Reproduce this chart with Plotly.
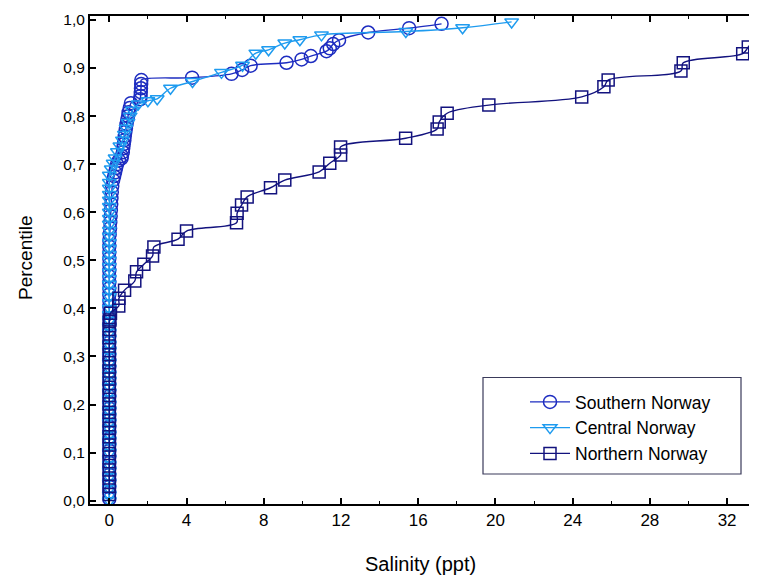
import plotly.graph_objects as go

# ---------------- data ----------------
south_x = [0, 0, 0, 0, 0, 0, 0, 0, 0, 0, 0, 0, 0, 0, 0, 0, 0, 0, 0, 0,
           0, 0, 0, 0, 0, 0, 0, 0, 0, 0, 0, 0, 0, 0, 0, 0, 0, 0, 0, 0,
           0, 0, 0, 0, 0.02, 0.04, 0.05, 0.07, 0.08, 0.1, 0.11, 0.13, 0.15,
           0.2, 0.25, 0.3, 0.35, 0.4, 0.5, 0.63, 0.65, 0.7, 0.72, 0.75, 0.78,
           0.8, 0.83, 0.86, 0.89, 0.93, 0.97, 1.0, 1.06, 1.12,
           1.6, 1.62, 1.63, 1.64, 1.65, 1.66,
           4.29, 6.33, 6.88, 7.32, 9.18, 9.96, 10.44, 11.25, 11.42, 11.6, 11.9,
           13.41, 15.53, 17.21]
south_y = [0.004, 0.017, 0.029, 0.042, 0.054, 0.067, 0.079, 0.092, 0.104, 0.117,
           0.129, 0.142, 0.154, 0.167, 0.179, 0.192, 0.204, 0.217, 0.229, 0.242,
           0.254, 0.267, 0.279, 0.292, 0.304, 0.317, 0.329, 0.342, 0.354, 0.367,
           0.379, 0.392, 0.404, 0.417, 0.429, 0.442, 0.454, 0.467, 0.479, 0.492,
           0.504, 0.517, 0.529, 0.542, 0.554, 0.567, 0.579, 0.592, 0.604, 0.617,
           0.629, 0.642, 0.654,
           0.667, 0.675, 0.683, 0.692, 0.700, 0.708, 0.712, 0.717, 0.725, 0.733,
           0.742, 0.750, 0.758, 0.767, 0.775, 0.783, 0.792, 0.800, 0.808, 0.817,
           0.827, 0.835,
           0.842, 0.850, 0.858, 0.867, 0.875, 0.880,
           0.888, 0.896, 0.905, 0.911, 0.918, 0.925, 0.935, 0.941, 0.950, 0.958,
           0.974, 0.983, 0.992, 0.999]

central_x = [0, 0, 0, 0, 0, 0, 0, 0, 0, 0, 0, 0, 0, 0, 0, 0, 0, 0, 0, 0,
             0, 0, 0, 0, 0, 0, 0, 0, 0, 0, 0, 0, 0, 0, 0, 0, 0, 0, 0, 0,
             0, 0, 0, 0, 0, 0, 0, 0, 0, 0, 0, 0, 0, 0, 0,
             0.1, 0.2, 0.3, 0.42, 0.55, 0.68, 0.78, 0.87, 0.97, 1.08, 1.2, 1.5,
             2.0, 2.48, 3.17, 4.31, 5.81, 6.9, 7.59, 8.25, 9.09, 9.87, 10.99,
             15.36, 18.3, 20.84]
central_y = [0.0, 0.012, 0.025, 0.037, 0.050, 0.062, 0.075, 0.087, 0.100, 0.112,
             0.125, 0.137, 0.150, 0.162, 0.175, 0.187, 0.200, 0.212, 0.225, 0.237,
             0.250, 0.262, 0.275, 0.287, 0.300, 0.312, 0.325, 0.337, 0.350, 0.362,
             0.375, 0.387, 0.400, 0.412, 0.425, 0.437, 0.450, 0.462, 0.475, 0.487,
             0.500, 0.512, 0.525, 0.537, 0.550, 0.562, 0.575, 0.587, 0.600, 0.612,
             0.625, 0.637, 0.650, 0.662, 0.677,
             0.690, 0.702, 0.713, 0.726, 0.738, 0.750, 0.762, 0.775, 0.787, 0.800,
             0.812, 0.825, 0.832, 0.836, 0.858, 0.872, 0.891, 0.906, 0.931, 0.938,
             0.952, 0.959, 0.969, 0.976, 0.984, 0.996]

north_x = [0, 0, 0, 0, 0, 0, 0, 0, 0, 0, 0, 0, 0, 0, 0, 0, 0, 0, 0, 0, 0, 0,
           0.03, 0.06, 0.49, 0.5, 0.79, 1.32, 1.41, 1.79, 2.24, 2.31, 3.56, 4.0,
           6.59, 6.62, 6.85, 7.14, 8.35, 9.09, 10.87, 11.42, 11.98, 11.98,
           15.35, 16.98, 17.09, 17.5, 19.66, 24.47, 25.62, 25.84, 29.61, 29.73,
           32.81, 33.1, 33.53, 33.9, 34.3]
north_y = [0.013, 0.030, 0.047, 0.064, 0.081, 0.098, 0.116, 0.133, 0.150, 0.167,
           0.184, 0.201, 0.219, 0.236, 0.253, 0.270, 0.287, 0.304, 0.322, 0.339,
           0.356, 0.373,
           0.376, 0.390, 0.405, 0.421, 0.438, 0.457, 0.476, 0.492, 0.509, 0.528,
           0.544, 0.561, 0.578, 0.598, 0.615, 0.632, 0.651, 0.667, 0.684, 0.702,
           0.719, 0.736, 0.754, 0.773, 0.788, 0.806, 0.823, 0.840, 0.861, 0.875,
           0.894, 0.911, 0.930, 0.944, 0.965, 0.982, 1.0]

x_ticks = [0, 4, 8, 12, 16, 20, 24, 28, 32]
y_ticks = [0.0, 0.1, 0.2, 0.3, 0.4, 0.5, 0.6, 0.7, 0.8, 0.9, 1.0]

names = ["Southern Norway", "Central Norway", "Northern Norway"]
colors = ["#1d2cc0", "#1e9bef", "#12127e"]
symbols = ["circle-open", "triangle-down-open", "square-open"]

FONT = "Liberation Sans, Arial, sans-serif"

# page body has an 8px margin -> figure is 8px smaller and the plot area is placed
# at absolute x 90..757, y 16..504
PL, PT, PB = 82, 8, 73
PW, PH = 667, 488
ABS_L, ABS_B = 90, 504


def px_x(ax):
    return (ax - ABS_L) / PW


def px_y(ay):
    return (ABS_B - ay) / PH


fig = go.Figure()
for xs, ys, name, col, sym, size in [
    (south_x, south_y, names[0], colors[0], symbols[0], 13),
    (central_x, central_y, names[1], colors[1], symbols[1], 12),
    (north_x, north_y, names[2], colors[2], symbols[2], 12),
]:
    fig.add_trace(go.Scatter(
        x=xs, y=ys, name=name, mode="lines+markers",
        line=dict(color=col, width=1.4, shape="spline", smoothing=1),
        marker=dict(symbol=sym, size=size, color=col, line=dict(width=1.5, color=col)),
    ))

fig.update_layout(
    width=749, height=569,
    margin=dict(l=PL, r=0, t=PT, b=PB, autoexpand=False),
    paper_bgcolor="white", plot_bgcolor="white",
    separators=", ",
    font=dict(family=FONT, color="black"),
    showlegend=True,
    legend=dict(
        x=px_x(525), y=px_y(384), xanchor="left", yanchor="top",
        bgcolor="rgba(0,0,0,0)", borderwidth=0,
        font=dict(size=17.5, family=FONT, color="black"),
        itemwidth=40, tracegroupgap=0,
    ),
    shapes=[dict(type="rect", xref="paper", yref="paper",
                 x0=px_x(483), x1=px_x(741), y0=px_y(474), y1=px_y(377.5),
                 line=dict(color="#3a3a5a", width=1.2), fillcolor="rgba(0,0,0,0)")],
    annotations=[
        dict(text="Salinity (ppt)", xref="paper", yref="paper",
             x=px_x(420), y=0, yshift=-60, xanchor="center", yanchor="middle",
             showarrow=False, font=dict(size=20, family=FONT, color="black")),
        dict(text="Percentile", xref="paper", yref="paper",
             x=0, xshift=-65, y=px_y(258), textangle=-90,
             xanchor="center", yanchor="middle",
             showarrow=False, font=dict(size=19, family=FONT, color="black")),
    ],
)

fig.update_xaxes(
    range=[-1.0, 33.55], tickvals=x_ticks, ticktext=[str(v) for v in x_ticks],
    showgrid=False, zeroline=False,
    showline=True, linecolor="black", linewidth=2, mirror="ticks",
    ticks="inside", ticklen=6, tickwidth=1.5, tickcolor="black",
    minor=dict(dtick=2, tick0=0, ticks="inside", ticklen=3, tickwidth=1.2, tickcolor="black"),
    tickfont=dict(size=17, family="Liberation Sans Narrow, Arial Narrow, " + FONT, color="black"),
)
fig.update_yaxes(
    range=[-0.0069, 1.0083], tickvals=y_ticks, tickformat=".1f",
    showgrid=False, zeroline=False,
    showline=True, linecolor="black", linewidth=2, mirror=False,
    ticks="inside", ticklen=6, tickwidth=1.5, tickcolor="black",
    tickfont=dict(size=15.5, family=FONT, color="black"),
)

fig.write_html("out.html")
